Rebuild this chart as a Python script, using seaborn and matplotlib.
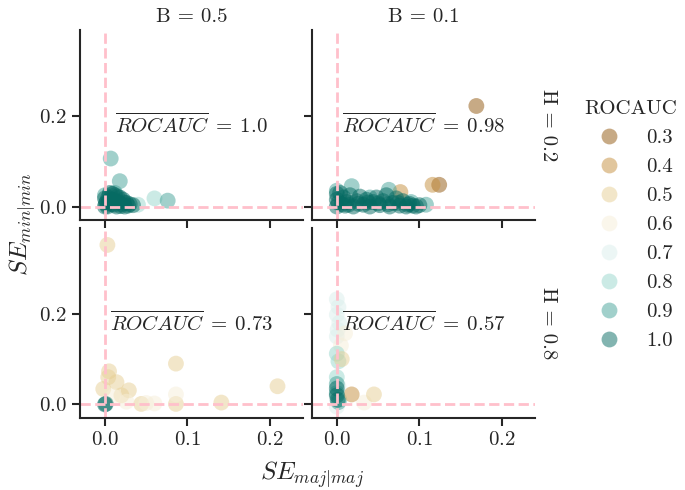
import numpy as np
import pandas as pd
import seaborn as sns
import matplotlib.pyplot as plt

# Panel B=0.5, H=0.2
p1_x = [0.007, 0.018, 0.060, 0.076, 0.040, 0.000, 0.012,
        0.000, 0.002, 0.004, 0.006, 0.008, 0.010, 0.012, 0.014, 0.016, 0.018,
        0.020, 0.022, 0.024, 0.026, 0.028, 0.003, 0.000, 0.009, 0.015, 0.030, 0.034,
        0.001, 0.005, 0.011, 0.019, 0.023]
p1_y = [0.106, 0.056, 0.018, 0.013, 0.004, 0.025, 0.030,
        0.000, 0.010, 0.020, 0.030, 0.005, 0.015, 0.025, 0.000, 0.010, 0.020,
        0.005, 0.015, 0.000, 0.008, 0.002, 0.000, 0.018, 0.028, 0.022, 0.005, 0.003,
        0.006, 0.012, 0.004, 0.001, 0.009]
p1_auc = [0.9, 0.9, 0.8, 0.9, 0.8, 0.9, 0.9,
          1.0, 1.0, 1.0, 1.0, 1.0, 1.0, 1.0, 1.0, 1.0, 1.0,
          1.0, 1.0, 1.0, 1.0, 1.0, 1.0, 1.0, 1.0, 1.0, 1.0, 1.0,
          1.0, 1.0, 1.0, 1.0, 1.0]

# Panel B=0.1, H=0.2
p2_x = [0.169, 0.124, 0.116, 0.077,
        0.018, 0.063, 0.108, 0.000, 0.090, 0.040,
        0.000, 0.000, 0.000, 0.006, 0.008, 0.012, 0.016, 0.020, 0.024, 0.028,
        0.032, 0.036, 0.040, 0.044, 0.048, 0.052, 0.056, 0.060, 0.064, 0.068,
        0.072, 0.076, 0.080, 0.084, 0.088, 0.092, 0.096, 0.004, 0.010,
        0.002, 0.014, 0.026, 0.038, 0.050, 0.062, 0.074, 0.086, 0.100]
p2_y = [0.222, 0.048, 0.048, 0.032,
        0.045, 0.037, 0.004, 0.035, 0.010, 0.020,
        0.000, 0.015, 0.028, 0.005, 0.020, 0.010, 0.025, 0.000, 0.012, 0.022,
        0.004, 0.015, 0.000, 0.010, 0.020, 0.003, 0.012, 0.025, 0.000, 0.008,
        0.018, 0.002, 0.012, 0.000, 0.006, 0.002, 0.000, 0.030, 0.002,
        0.008, 0.004, 0.006, 0.009, 0.007, 0.005, 0.008, 0.004, 0.003]
p2_auc = [0.3, 0.3, 0.4, 0.4,
          0.9, 0.9, 0.9, 0.9, 0.9, 0.9,
          1.0, 1.0, 1.0, 1.0, 1.0, 1.0, 1.0, 1.0, 1.0, 1.0,
          1.0, 1.0, 1.0, 1.0, 1.0, 1.0, 1.0, 1.0, 1.0, 1.0,
          1.0, 1.0, 1.0, 1.0, 1.0, 1.0, 1.0, 1.0, 1.0,
          1.0, 1.0, 1.0, 1.0, 1.0, 1.0, 1.0, 1.0, 1.0]

# Panel B=0.5, H=0.8
p3_x = [0.003, 0.005, 0.014, 0.029, 0.086, 0.086, 0.141, 0.209, 0.044, -0.002,
        0.004, 0.020, 0.086, 0.050, 0.010, 0.026, 0.060, 0.000, 0.001]
p3_y = [0.352, 0.073, 0.049, 0.031, 0.090, 0.001, 0.004, 0.040, 0.001, 0.034,
        0.060, 0.020, 0.022, 0.003, 0.018, 0.006, 0.002, 0.000, 0.001]
p3_auc = [0.5, 0.5, 0.5, 0.5, 0.5, 0.5, 0.5, 0.5, 0.5, 0.5,
          0.5, 0.5, 0.6, 0.6, 0.6, 0.6, 0.6, 1.0, 1.0]

# Panel B=0.1, H=0.8
p4_x = [0.000, 0.002, 0.000, 0.003, 0.001, 0.000, 0.002, 0.000,
        0.010, 0.033, 0.005, 0.000, 0.002, 0.000, 0.003, 0.045, 0.006, 0.018,
        0.000, 0.002, 0.000, 0.000, 0.000, 0.001]
p4_y = [0.232, 0.215, 0.198, 0.180, 0.165, 0.150, 0.040, -0.005,
        0.157, 0.004, 0.130, 0.112, 0.095, 0.060, 0.010, 0.022, 0.100, 0.022,
        0.045, 0.005, 0.025, 0.035, 0.020, 0.010]
p4_auc = [0.7, 0.7, 0.7, 0.7, 0.7, 0.7, 0.7, 0.7,
          0.6, 0.6, 0.6, 0.8, 0.8, 0.8, 0.8, 0.5, 0.5, 0.4,
          0.9, 0.9, 0.9, 1.0, 1.0, 1.0]

b_values = [0.5, 0.1, 0.5, 0.1]
h_values = [0.2, 0.2, 0.8, 0.8]
mean_auc = ["1.0", "0.98", "0.73", "0.57"]

# Build the long-format frame
frames = []
for xs, ys, aucs, b, h in zip([p1_x, p2_x, p3_x, p4_x], [p1_y, p2_y, p3_y, p4_y],
                              [p1_auc, p2_auc, p3_auc, p4_auc], b_values, h_values):
    frames.append(pd.DataFrame({"se_maj": xs, "se_min": ys, "ROCAUC": aucs, "B": b, "H": h}))
df = pd.concat(frames, ignore_index=True)

sns.set_style("ticks")
plt.rcParams["font.family"] = "serif"
plt.rcParams["font.serif"] = ["cmr10"]
plt.rcParams["mathtext.fontset"] = "cm"
plt.rcParams["axes.formatter.use_mathtext"] = True
plt.rcParams["font.size"] = 15
plt.rcParams["axes.linewidth"] = 1.5
plt.rcParams["xtick.major.width"] = 1.5
plt.rcParams["ytick.major.width"] = 1.5
plt.rcParams["xtick.major.size"] = 6
plt.rcParams["ytick.major.size"] = 6

g = sns.relplot(data=df, x="se_maj", y="se_min", hue="ROCAUC", col="B", row="H",
                col_order=[0.5, 0.1], row_order=[0.2, 0.8], palette="BrBG",
                hue_norm=(0.2, 1.1), legend="full", s=130, alpha=0.5, linewidth=0,
                height=2.4, aspect=1.2, facet_kws=dict(margin_titles=True))
g.figure.set_size_inches(6.85, 4.9)
g.refline(x=0, y=0, color="pink", linestyle="--", lw=2)
g.set(xlim=(-0.03, 0.24), ylim=(-0.03, 0.39), xticks=[0.0, 0.1, 0.2], yticks=[0.0, 0.2])
g.set_axis_labels("", "")
g.set_titles(col_template="B = {col_name}", row_template="H = {row_name}", size=15)

# Mean ROCAUC annotation in each panel
for ax, txt in zip(g.axes.flat, mean_auc):
    ax.text(0.5, 0.5, r"$\overline{ROCAUC}\;=\;" + txt + "$", transform=ax.transAxes,
            ha="center", va="center", fontsize=15)
    ax.tick_params(labelsize=15)

g.figure.subplots_adjust(left=0.117, right=0.781, bottom=0.147, top=0.939, wspace=0.04, hspace=0.04)
sns.move_legend(g, "center left", bbox_to_anchor=(0.825, 0.54), frameon=False,
                fontsize=15, title_fontsize=15)

g.figure.text(0.455, 0.031, r"$SE_{maj|maj}$", ha="center", va="center", fontsize=18)
g.figure.text(0.034, 0.543, r"$SE_{min|min}$", ha="center", va="center", rotation=90, fontsize=18)

plt.savefig("out.png", dpi=100)
